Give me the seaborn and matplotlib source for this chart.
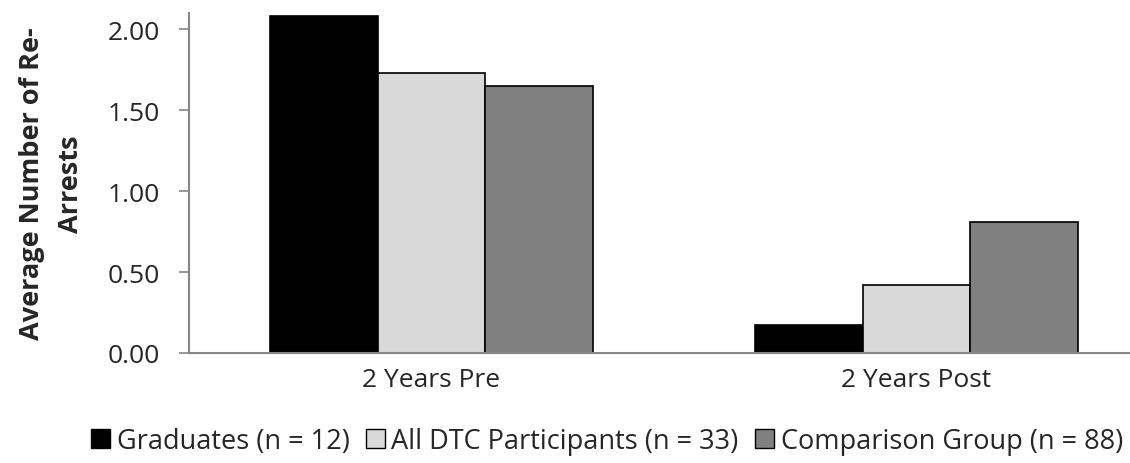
import matplotlib
matplotlib.use('Agg')

import pandas as pd
import matplotlib.pyplot as plt
import seaborn as sns

periods = ["2 Years Pre", "2 Years Post"]
groups = ["Graduates (n = 12)", "All DTC Participants (n = 33)", "Comparison Group (n = 88)"]
graduates = [2.08, 0.17]
dtc_all = [1.73, 0.42]
comparison = [1.65, 0.81]
yticks = [0.0, 0.5, 1.0, 1.5, 2.0]

colors = ["#000000", "#d9d9d9", "#808080"]

rows = []
for g, vals in zip(groups, [graduates, dtc_all, comparison]):
    for p, v in zip(periods, vals):
        rows.append({"period": p, "group": g, "value": v})
df = pd.DataFrame(rows)

sns.set_style("white")
plt.rcParams['font.family'] = ['Open Sans', 'DejaVu Sans']

fig = plt.figure(figsize=(11.3, 4.64), dpi=100)
ax = fig.add_axes([189 / 1130, 110 / 464, 970 / 1130, 340 / 464])

sns.barplot(data=df, x="period", y="value", hue="group", order=periods,
            hue_order=groups, palette=colors, width=0.667, edgecolor="black",
            linewidth=1.2, ax=ax, legend=False)

ax.set_ylim(0, 2.1)
ax.set_xlim(-0.5, 1.5)
ax.set_yticks(yticks)
ax.set_yticklabels(["%.2f" % t for t in yticks], fontsize=19)
ax.tick_params(axis='y', length=7, color="#868686", width=1.2, pad=14, left=True)
ax.tick_params(axis='x', length=0, labelsize=19, pad=10)
ax.set_xlabel("")
ax.set_ylabel("Average Number of Re-\nArrests", fontsize=19.5, fontweight="bold",
              labelpad=17, linespacing=1.65)

for s in ["top", "right"]:
    ax.spines[s].set_visible(False)
for s in ["left", "bottom"]:
    ax.spines[s].set_color("#868686")
    ax.spines[s].set_linewidth(1.5)

handles = [plt.Rectangle((0, 0), 1, 1, facecolor=c, edgecolor="black", linewidth=1) for c in colors]
fig.legend(handles, groups, loc="center", bbox_to_anchor=(0.537, 0.047), ncol=3,
           frameon=False, fontsize=19.5, handlelength=0.7, handleheight=0.7,
           handletextpad=0.25, columnspacing=0.6)

fig.savefig("out.png", dpi=100)
